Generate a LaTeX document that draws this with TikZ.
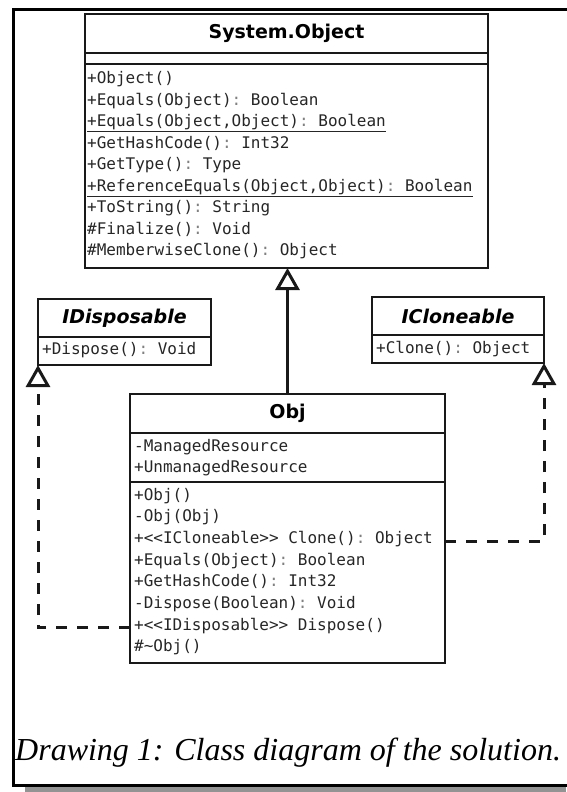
\documentclass[tikz,border=0pt]{standalone}
\usepackage{fontspec}
\setmainfont{Liberation Serif}
\setsansfont{DejaVu Sans}
\setmonofont{DejaVu Sans Mono}
\usetikzlibrary{arrows.meta}
\newcommand\cl{\textcolor{gray}{:}}
\begin{document}
\begin{tikzpicture}[x=1pt,y=-1pt,
  cls/.style={draw=black!90, line width=2.8pt, inner sep=0pt, outer sep=0pt, anchor=north west},
  title/.style={font=\sffamily\bfseries\fontsize{19}{23}\selectfont},
  ititle/.style={font=\sffamily\bfseries\itshape\fontsize{19}{23}\selectfont},
  row/.style={anchor=base west, inner sep=0pt, text=black!85, font=\ttfamily\fontsize{16}{21}\selectfont},
  inherit/.style={draw=black!90, line width=3pt, -{Triangle[open, length=22pt, width=24pt]}},
  realize/.style={inherit, dash pattern=on 11pt off 10pt}]
\useasboundingbox (0,0) rectangle (566,792);
\fill[gray!85] (25,786) rectangle (566,792);
\draw[line width=3pt] (570,10) -| (13,785) -- (570,785);
% System.Object
\node[cls, title, minimum width=403pt, minimum height=39pt] (sysT) at (85,14) {System.Object};
\node[cls, minimum width=403pt, minimum height=11pt] (sysA) at (sysT.south west) {};
\node[cls, minimum width=403pt, minimum height=204pt] (sysO) at (sysA.south west) {};
\foreach \t [count=\i] in {+Object(), +Equals(Object)\cl{} Boolean,
  {\underline{+Equals(Object,Object)\cl{} Boolean}}, +GetHashCode()\cl{} Int32,
  +GetType()\cl{} Type, {\underline{+ReferenceEquals(Object,Object)\cl{} Boolean}},
  +ToString()\cl{} String, \#Finalize()\cl{} Void, \#MemberwiseClone()\cl{} Object}
  \node[row] (so\i) at (87,62+21.5*\i) {\t};
% interfaces
\node[cls, ititle, minimum width=173pt, minimum height=38pt] (idT) at (38,299) {IDisposable};
\node[cls, minimum width=173pt, minimum height=28pt] (idO) at (idT.south west) {};
\node[row] (io1) at (42,354) {+Dispose()\cl{} Void};
\node[cls, ititle, minimum width=172pt, minimum height=38pt] (icT) at (372,297) {ICloneable};
\node[cls, minimum width=172pt, minimum height=28pt] (icO) at (icT.south west) {};
\node[row] (co1) at (376,353) {+Clone()\cl{} Object};
% Obj
\node[cls, title, minimum width=315pt, minimum height=39pt] (objT) at (130,394) {Obj};
\node[cls, minimum width=315pt, minimum height=49pt] (objA) at (objT.south west) {};
\node[cls, minimum width=315pt, minimum height=181pt] (objO) at (objA.south west) {};
\node[row] (oa1) at (134,451) {-ManagedResource};
\node[row] (oa2) at (134,472) {+UnmanagedResource};
\foreach \t [count=\i] in {+Obj(), -Obj(Obj), +<<ICloneable>> Clone()\cl{} Object,
  +Equals(Object)\cl{} Boolean, +GetHashCode()\cl{} Int32, -Dispose(Boolean)\cl{} Void,
  +<<IDisposable>> Dispose(), \#\textasciitilde Obj()}
  \node[row] (oo\i) at (134,478.3+21.7*\i) {\t};
% connectors
\draw[inherit] (objT.north) -- (objT.north |- sysO.south);
\draw[realize] (objO.west |- oo7.mid) -| (idO.south west);
\draw[realize] (objO.east |- oo3.mid) -| (icO.south east);
\node[anchor=base west, inner sep=0pt, font=\itshape\fontsize{32}{38}\selectfont] (cap) at (15,760) {Drawing 1: Class diagram of the solution.};
\end{tikzpicture}
\end{document}
